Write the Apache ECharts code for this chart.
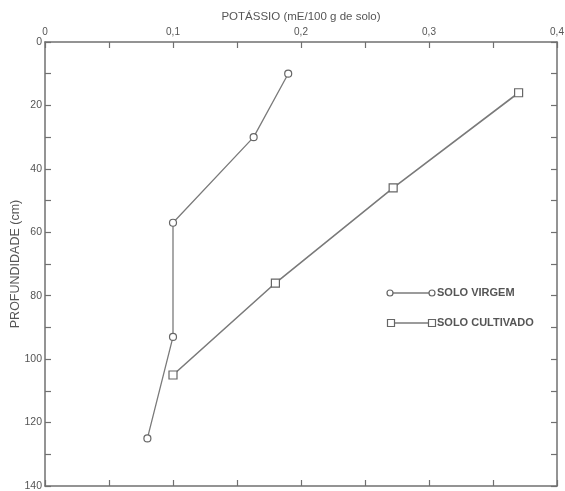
<!DOCTYPE html>
<html>
<head>
<meta charset="utf-8">
<script src="https://cdn.jsdelivr.net/npm/echarts@6/dist/echarts.min.js"></script>
<style>
html,body{margin:0;padding:0;background:#fff;}
#c{width:565px;height:491px;}
</style>
</head>
<body>
<div id="c"></div>
<script>
// Data
var seriesNames = ['SOLO VIRGEM', 'SOLO CULTIVADO'];
var virgemPotassio = [0.19, 0.163, 0.10, 0.10, 0.08];
var virgemProf = [10, 30, 57, 93, 125];
var cultivadoPotassio = [0.37, 0.272, 0.18, 0.10];
var cultivadoProf = [16, 46, 76, 105];
var xTickLabels = ['0', '0,1', '0,2', '0,3', '0,4'];
var yTickLabels = ['0', '20', '40', '60', '80', '100', '120', '140'];

var FONT = '"Liberation Sans", Arial, sans-serif';
var TXT = '#555555';
var AX = '#707070';
var LN = '#7a7a7a';

function pairs(xs, ys) { return xs.map(function (x, i) { return [x, ys[i]]; }); }

var chart = echarts.init(document.getElementById('c'), null, {renderer: 'canvas'});

function axisLineStyle() { return {onZero: false, lineStyle: {color: AX, width: 1.5}}; }
function tickStyle() { return {show: true, inside: true, length: 6, lineStyle: {color: AX, width: 1.2}}; }

var option = {
  backgroundColor: '#ffffff',
  animation: false,
  grid: {left: 45, top: 42, right: 8, bottom: 5, containLabel: false, outerBoundsMode: 'none'},
  xAxis: [
    {
      type: 'value', position: 'top', min: 0, max: 0.4, interval: 0.05,
      name: 'POTÁSSIO (mE/100 g de solo)', nameLocation: 'middle', nameGap: 19, nameMoveOverlap: false,
      nameTextStyle: {color: TXT, fontFamily: FONT, fontSize: 11.5},
      axisLine: axisLineStyle(), axisTick: tickStyle(), splitLine: {show: false},
      axisLabel: {
        color: TXT, fontFamily: FONT, fontSize: 10, margin: 5,
        formatter: function (v) {
          var k = Math.round(v * 100);
          if (k % 10 !== 0) return '';
          return xTickLabels[k / 10];
        }
      }
    },
    {
      type: 'value', position: 'bottom', min: 0, max: 0.4, interval: 0.05,
      axisLine: axisLineStyle(), axisTick: tickStyle(), splitLine: {show: false},
      axisLabel: {show: false}
    }
  ],
  yAxis: [
    {
      type: 'value', inverse: true, min: 0, max: 140, interval: 10, position: 'left',
      name: 'PROFUNDIDADE (cm)', nameLocation: 'middle', nameGap: 23, nameRotate: 90, nameMoveOverlap: false,
      nameTextStyle: {color: TXT, fontFamily: FONT, fontSize: 12.5},
      axisLine: axisLineStyle(), axisTick: tickStyle(), splitLine: {show: false},
      axisLabel: {
        color: TXT, fontFamily: FONT, fontSize: 10.5, margin: 3,
        formatter: function (v) {
          if (v % 20 !== 0) return '';
          return yTickLabels[v / 20];
        }
      }
    },
    {
      type: 'value', inverse: true, min: 0, max: 140, interval: 10, position: 'right',
      axisLine: axisLineStyle(), axisTick: tickStyle(), splitLine: {show: false},
      axisLabel: {show: false}
    }
  ],
  series: [
    {
      name: seriesNames[0], type: 'line', xAxisIndex: 0, yAxisIndex: 0,
      data: pairs(virgemPotassio, virgemProf),
      symbol: 'circle', symbolSize: 7,
      lineStyle: {color: LN, width: 1.3},
      itemStyle: {color: '#ffffff', borderColor: '#666', borderWidth: 1.2}
    },
    {
      name: seriesNames[1], type: 'line', xAxisIndex: 0, yAxisIndex: 0,
      data: pairs(cultivadoPotassio, cultivadoProf),
      symbol: 'rect', symbolSize: 8,
      lineStyle: {color: LN, width: 1.6},
      itemStyle: {color: '#ffffff', borderColor: '#666', borderWidth: 1.2}
    }
  ],
  graphic: [
    {type: 'line', shape: {x1: 390, y1: 293, x2: 432, y2: 293}, style: {stroke: LN, lineWidth: 1.3}},
    {type: 'circle', shape: {cx: 390, cy: 293, r: 3}, style: {fill: '#fff', stroke: '#666', lineWidth: 1.2}},
    {type: 'circle', shape: {cx: 432, cy: 293, r: 3}, style: {fill: '#fff', stroke: '#666', lineWidth: 1.2}},
    {type: 'text', left: 437, top: 287, style: {text: seriesNames[0], fill: TXT, font: 'bold 11px ' + FONT}},
    {type: 'line', shape: {x1: 391, y1: 323, x2: 432, y2: 323}, style: {stroke: LN, lineWidth: 1.3}},
    {type: 'rect', shape: {x: 387.5, y: 319.5, width: 7, height: 7}, style: {fill: '#fff', stroke: '#666', lineWidth: 1.2}},
    {type: 'rect', shape: {x: 428.5, y: 319.5, width: 7, height: 7}, style: {fill: '#fff', stroke: '#666', lineWidth: 1.2}},
    {type: 'text', left: 437, top: 317, style: {text: seriesNames[1], fill: TXT, font: 'bold 11px ' + FONT}}
  ]
};
chart.setOption(option);
</script>
</body>
</html>
